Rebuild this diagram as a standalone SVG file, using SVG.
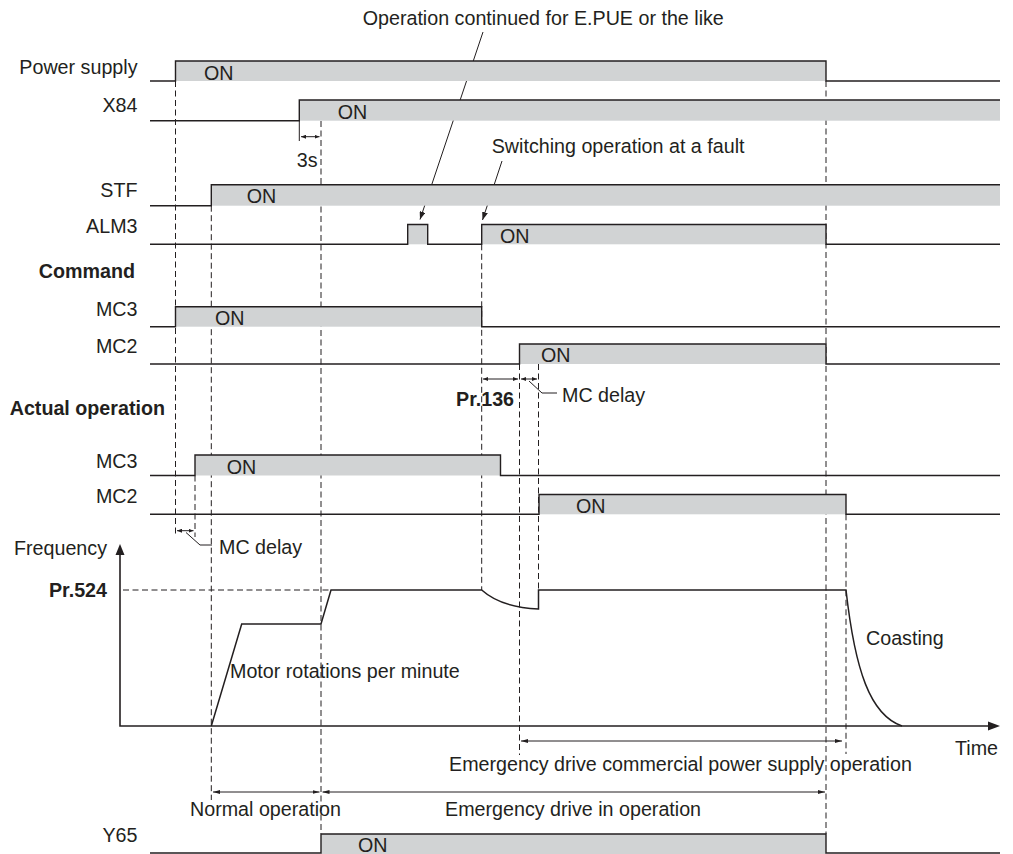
<svg xmlns="http://www.w3.org/2000/svg" width="1013" height="854" viewBox="0 0 1013 854">
<style>
text{font-family:"Liberation Sans",Arial,sans-serif;font-size:19.7px;fill:#231f20}
.b{font-weight:bold}
.e{text-anchor:end}
.on{fill:#d1d3d4;stroke:none}
.sig{fill:none;stroke:#231f20;stroke-width:1.4}
.dash{fill:none;stroke:#231f20;stroke-width:1;stroke-dasharray:6 3.5}
.ln{fill:none;stroke:#231f20;stroke-width:1}
.ax{fill:none;stroke:#231f20;stroke-width:1.6}
.cv{fill:none;stroke:#231f20;stroke-width:1.5}
</style>
<defs>
<marker id="s" viewBox="0 0 5 4" refX="5" refY="2" markerWidth="5" markerHeight="4" markerUnits="userSpaceOnUse" orient="auto-start-reverse"><path d="M0,0 L5,2 L0,4 z" fill="#231f20"/></marker>
<marker id="m" viewBox="0 0 7 4" refX="7" refY="2" markerWidth="7" markerHeight="4" markerUnits="userSpaceOnUse" orient="auto-start-reverse"><path d="M0,0 L7,2 L0,4 z" fill="#231f20"/></marker>
<marker id="l" viewBox="0 0 8 6" refX="8" refY="3" markerWidth="8" markerHeight="6" markerUnits="userSpaceOnUse" orient="auto"><path d="M0,0 L8,3 L0,6 z" fill="#231f20"/></marker>
</defs>

<g id="connectors">
<path class="dash" d="M175.5,81 V537"/>
<path class="dash" d="M195,475.5 V537"/>
<path class="dash" d="M211.3,205.7 V800"/>
<path class="dash" d="M321,121 V834"/>
<path class="dash" d="M481.7,244.3 V590"/>
<path class="dash" d="M519.5,364 V755"/>
<path class="dash" d="M538.5,364 V590"/>
<path class="dash" d="M826,81 V834"/>
<path class="dash" d="M846,514.3 V754"/>
<path class="dash" d="M123,590 H331"/>
<path class="ln" d="M299.3,121 V141"/>
<path class="ln" d="M301,136.7 H319.5" marker-start="url(#s)" marker-end="url(#s)"/>
<path class="ln" d="M483,379 H518" marker-start="url(#s)" marker-end="url(#s)"/>
<path class="ln" d="M521,379 H537" marker-start="url(#s)" marker-end="url(#s)"/>
<path class="ln" d="M177,530.7 H193.5" marker-start="url(#s)" marker-end="url(#s)"/>
<path class="ln" d="M529,381 L542,393 H557"/>
<path class="ln" d="M186,532.5 L200,545 H212"/>
<path class="ln" d="M521,741 H842" marker-start="url(#m)" marker-end="url(#m)"/>
<path class="ln" d="M213,792 H319.5" marker-start="url(#m)" marker-end="url(#m)"/>
<path class="ln" d="M322.5,792 H825" marker-start="url(#m)" marker-end="url(#m)"/>
<path class="ln" d="M483,32 L420,219.5" marker-end="url(#l)"/>
<path class="ln" d="M502,161 L482.5,220" marker-end="url(#l)"/>
</g>

<g id="power-supply">
<rect class="on" x="175.5" y="61" width="650.5" height="20"/>
<path class="sig" d="M150,81 H175.5 V61 H826 V81 H1000"/>
<text class="e" x="137.5" y="74">Power supply</text>
<text x="204" y="79.5">ON</text>
</g>
<g id="x84">
<rect class="on" x="299.3" y="100" width="700.7" height="20.7"/>
<path class="sig" d="M150,120.7 H299.3 V100 H1000"/>
<text class="e" x="137.5" y="111.7">X84</text>
<text x="337.7" y="119">ON</text>
<text x="296.7" y="166.5">3s</text>
</g>
<g id="stf">
<rect class="on" x="211.3" y="184.7" width="788.7" height="21"/>
<path class="sig" d="M150,205.7 H211.3 V184.7 H1000"/>
<text class="e" x="137.5" y="197">STF</text>
<text x="246.7" y="203">ON</text>
</g>
<g id="alm3">
<rect class="on" x="407.7" y="224.5" width="20" height="19.8"/>
<rect class="on" x="481.7" y="224.5" width="344.3" height="19.8"/>
<path class="sig" d="M150,244.3 H407.7 V224.5 H427.7 V244.3 H481.7 V224.5 H826 V244.3 H1000"/>
<text class="e" x="137.5" y="232.5">ALM3</text>
<text x="500" y="243">ON</text>
</g>
<g id="notes">
<text x="362.7" y="25">Operation continued for E.PUE or the like</text>
<text x="491.7" y="153">Switching operation at a fault</text>
</g>
<g id="command">
<text class="b e" x="135" y="278">Command</text>
</g>
<g id="mc3-command">
<rect class="on" x="175.5" y="306.7" width="306.2" height="20"/>
<path class="sig" d="M150,326.7 H175.5 V306.7 H481.7 V326.7 H1000"/>
<text class="e" x="137.5" y="315.7">MC3</text>
<text x="215" y="325">ON</text>
</g>
<g id="mc2-command">
<rect class="on" x="519.5" y="344" width="306.5" height="20"/>
<path class="sig" d="M150,364 H519.5 V344 H826 V364 H1000"/>
<text class="e" x="137.5" y="352.7">MC2</text>
<text x="541" y="362">ON</text>
<text class="b" x="456" y="406">Pr.136</text>
<text x="562" y="402">MC delay</text>
</g>
<g id="actual">
<text class="b e" x="165" y="415">Actual operation</text>
</g>
<g id="mc3-actual">
<rect class="on" x="195" y="455" width="305.5" height="20.5"/>
<path class="sig" d="M150,475.5 H195 V455 H500.5 V475.5 H1000"/>
<text class="e" x="137.5" y="467.5">MC3</text>
<text x="226.7" y="474">ON</text>
</g>
<g id="mc2-actual">
<rect class="on" x="539" y="494.5" width="307" height="19.8"/>
<path class="sig" d="M150,514.3 H539 V494.5 H846 V514.3 H1000"/>
<text class="e" x="137.5" y="503">MC2</text>
<text x="576" y="513">ON</text>
<text x="219" y="554">MC delay</text>
</g>
<g id="frequency">
<path class="ax" d="M120,552 V726 H990"/>
<polygon points="120,544 115.5,555 124.5,555" fill="#231f20"/>
<polygon points="1000,726 988,721.5 988,730.5" fill="#231f20"/>
<path class="cv" d="M211.3,726 L241.7,624 H321 L331,590 H481.7 C495,602 515,608 538.5,609 V590 H846 C855,670 870,715 902,726"/>
<text class="e" x="107" y="555">Frequency</text>
<text class="b e" x="107" y="597">Pr.524</text>
<text x="230" y="678">Motor rotations per minute</text>
<text x="866" y="645">Coasting</text>
<text x="955" y="755">Time</text>
<text x="449" y="771">Emergency drive commercial power supply operation</text>
<text x="190" y="816">Normal operation</text>
<text x="445" y="816">Emergency drive in operation</text>
</g>
<g id="y65">
<rect class="on" x="321" y="834" width="505" height="20"/>
<path class="sig" d="M150,853 H321 V834 H826 V853 H1000"/>
<text class="e" x="137.5" y="841.7">Y65</text>
<text x="358" y="851.5">ON</text>
</g>
</svg>
